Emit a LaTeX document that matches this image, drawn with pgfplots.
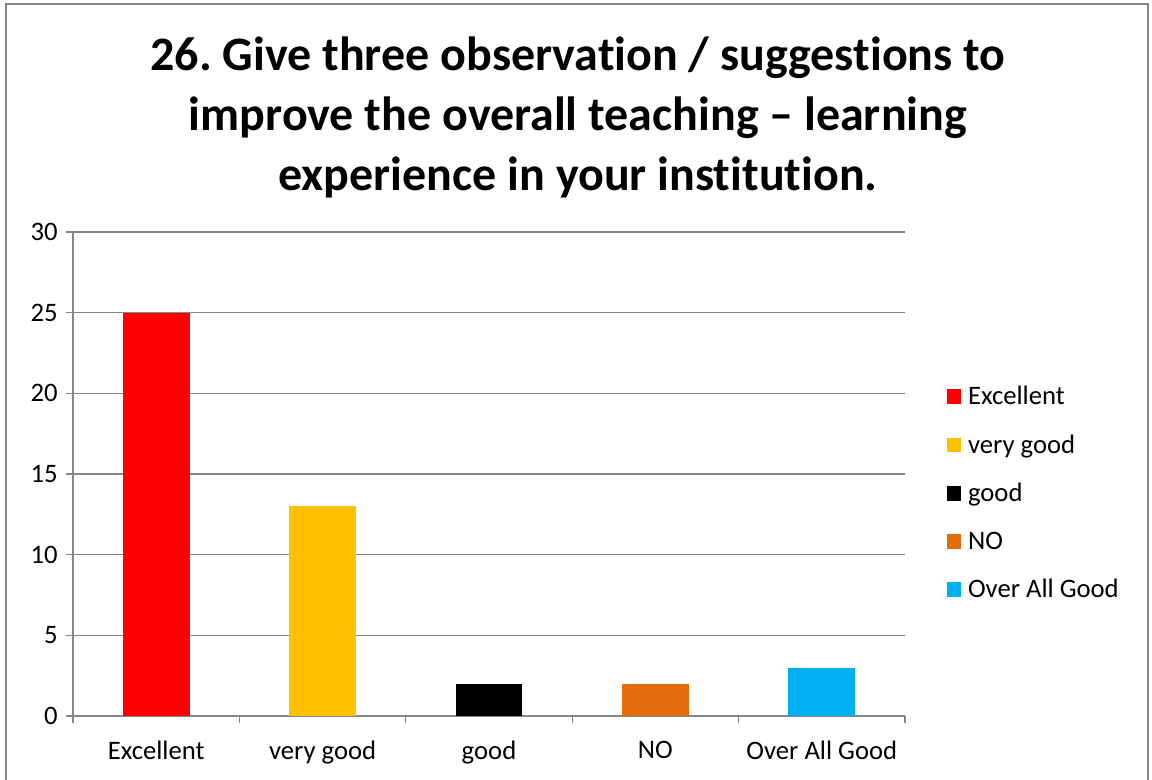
\documentclass[border=0pt]{standalone}
\usepackage{pgfplots}
\pgfplotsset{compat=1.18}
\usepackage{fontspec}
\setmainfont{Carlito}[Ligatures={TeX,NoCommon}]
\frenchspacing
\definecolor{cRed}{HTML}{FF0000}
\definecolor{cYel}{HTML}{FFC000}
\definecolor{cBlk}{HTML}{000000}
\definecolor{cOra}{HTML}{E46C0A}
\definecolor{cBlu}{HTML}{00B0F0}
\definecolor{axgray}{HTML}{868686}
\begin{document}
\begin{tikzpicture}[x=0.75pt,y=0.75pt]
% frame (px coords relative to axis origin at (73,716))
\useasboundingbox (-73,-64) rectangle (1079,716);
\draw[axgray, line width=1.2pt] (-67,-70) -- (-67,712) -- (1075,712) -- (1075,-70);
\begin{axis}[
  at={(0,0)}, anchor=south west,
  scale only axis,
  width=624pt, height=363pt,
  xmin=-0.5, xmax=4.5, ymin=0, ymax=30,
  axis lines=left,
  axis line style={-, axgray, line width=0.9pt},
  ytick={0,5,...,30},
  xtick={0,1,2,3,4},
  xticklabels={Excellent, very good, good, NO, Over All Good},
  minor xtick={-0.5,0.5,1.5,2.5,3.5,4.5},
  major x tick style={draw=none},
  minor tick length=5pt,
  major tick length=5pt,
  tick align=outside,
  tick style={axgray, line width=0.9pt},
  ymajorgrids,
  grid style={axgray, line width=0.9pt},
  ticklabel style={font=\fontsize{20}{24}\selectfont, text=black},
  /pgf/number format/assume math mode=true,
  xticklabel style={yshift=-10pt},
  yticklabel style={xshift=-3pt},
  ybar, bar width=50pt, bar shift=0pt,
  legend style={draw=none, fill=none, at={(1.045,0.461)}, anchor=west,
    font=\fontsize{20}{24}\selectfont, row sep=17pt,
    legend cell align=left},
  legend image code/.code={\fill[#1] (0pt,-5.5pt) rectangle (11pt,5.5pt); \path (14pt,0pt);},
  clip=false,
]
\addplot[fill=cRed, draw=none] coordinates {(0,25)};
\addlegendentry{Excellent}
\addplot[fill=cYel, draw=none] coordinates {(1,13)};
\addlegendentry{very good}
\addplot[fill=cBlk, draw=none] coordinates {(2,2)};
\addlegendentry{good}
\addplot[fill=cOra, draw=none] coordinates {(3,2)};
\addlegendentry{NO}
\addplot[fill=cBlu, draw=none] coordinates {(4,3)};
\addlegendentry{Over All Good}
\end{axis}
\node[align=center, font=\fontsize{36}{45}\selectfont\bfseries, anchor=center] at (505,599)
  {26. Give three observation / suggestions to\\improve the overall teaching -- learning\\experience in your institution.};
\end{tikzpicture}
\end{document}
